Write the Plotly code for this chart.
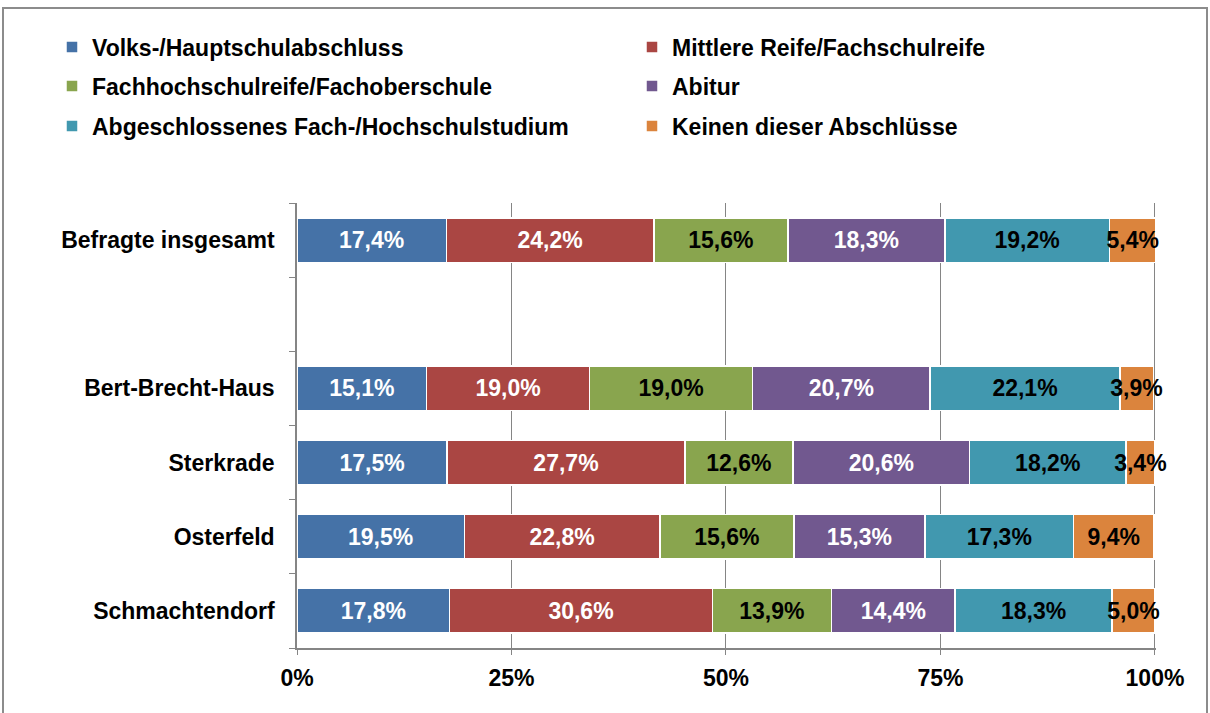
import plotly.graph_objects as go

categories = ["Schmachtendorf", "Osterfeld", "Sterkrade", "Bert-Brecht-Haus", " ", "Befragte insgesamt"]

series_names = [
    "Volks-/Hauptschulabschluss",
    "Mittlere Reife/Fachschulreife",
    "Fachhochschulreife/Fachoberschule",
    "Abitur",
    "Abgeschlossenes Fach-/Hochschulstudium",
    "Keinen dieser Abschlüsse",
]

volks = [17.8, 19.5, 17.5, 15.1, None, 17.4]
mittlere = [30.6, 22.8, 27.7, 19.0, None, 24.2]
fachhoch = [13.9, 15.6, 12.6, 19.0, None, 15.6]
abitur = [14.4, 15.3, 20.6, 20.7, None, 18.3]
studium = [18.3, 17.3, 18.2, 22.1, None, 19.2]
keinen = [5.0, 9.4, 3.4, 3.9, None, 5.4]

x_ticks = [0, 25, 50, 75, 100]
x_tick_labels = ["0%", "25%", "50%", "75%", "100%"]

colors = ["#4572A7", "#AA4643", "#89A54E", "#71588F", "#4198AF", "#DB843D"]
text_colors = ["white", "white", "black", "white", "black", "black"]
legend_ids = ["legend", "legend2", "legend3", "legend4", "legend5", "legend6"]

FONT = "Arial, Liberation Sans, sans-serif"
FS = 23

def fmt(v):
    return "" if v is None else f"{v:.1f}".replace(".", ",") + "%"

fig = go.Figure()
for name, vals, c, tc, lg in zip(series_names, [volks, mittlere, fachhoch, abitur, studium, keinen],
                                 colors, text_colors, legend_ids):
    fig.add_trace(go.Bar(
        name=name, y=categories, x=vals, orientation="h",
        marker=dict(color=c, line=dict(color="white", width=1.5)),
        text=[fmt(v) for v in vals], textposition="inside", insidetextanchor="middle",
        textangle=0,
        textfont=dict(family=FONT, size=FS, color=tc, weight="bold"),
        constraintext="none", cliponaxis=False,
        legend=lg, hoverinfo="skip",
    ))

L, R, T, B = 297, 54, 203, 65
W, H = 1210, 713
pw, ph = W - L - R, H - T - B

def px_to_x(p):
    return (p - L) / pw

def px_to_y(p):
    return (H - B - p) / ph

legend_pos = [(52, 47), (632, 47), (52, 86), (632, 86), (52, 126), (632, 126)]
legends = {}
for lg, (lx, ly) in zip(legend_ids, legend_pos):
    legends[lg] = dict(orientation="v", x=px_to_x(lx), xanchor="left", y=px_to_y(ly), yanchor="middle",
                       font=dict(family=FONT, size=FS, color="black", weight="bold"),
                       bgcolor="rgba(0,0,0,0)")

fig.update_layout(
    width=W, height=H,
    margin=dict(l=L, r=R, t=T, b=B, autoexpand=False),
    paper_bgcolor="white", plot_bgcolor="white",
    barmode="stack", bargap=0.4,
    uniformtext=dict(minsize=FS, mode="show"),
    showlegend=True,
    xaxis=dict(range=[0, 100.12], tickvals=x_ticks, ticktext=x_tick_labels,
               showgrid=True, gridcolor="#858585", gridwidth=1,
               showline=True, linecolor="#858585", linewidth=1.5,
               ticks="outside", ticklen=5, tickcolor="#858585",
               ticklabelstandoff=4, automargin=False,
               zeroline=False, fixedrange=True,
               tickfont=dict(family=FONT, size=FS, color="black", weight="bold")),
    yaxis=dict(type="category", categoryorder="array", categoryarray=categories,
               range=[-0.5, 5.5], tickson="boundaries",
               showgrid=False, showline=True, linecolor="#858585", linewidth=1.5,
               ticks="outside", ticklen=6, tickcolor="#858585",
               ticklabelstandoff=16, automargin=False, fixedrange=True,
               tickfont=dict(family=FONT, size=FS, color="black", weight="bold")),
    shapes=[dict(type="rect", xref="paper", yref="paper",
                 x0=px_to_x(3), x1=px_to_x(1207), y0=px_to_y(740), y1=px_to_y(8),
                 line=dict(color="#8c8c8c", width=2), fillcolor="rgba(0,0,0,0)", layer="below")],
    **legends,
)

fig.write_html("out.html", config={"displayModeBar": False},
               post_script="document.body.style.margin='0px';document.body.style.overflow='hidden';")
